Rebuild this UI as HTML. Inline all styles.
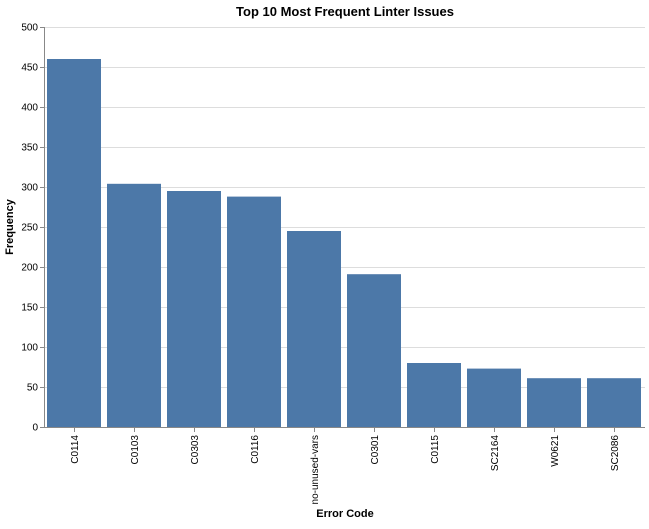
<!DOCTYPE html>
<html><head><meta charset="utf-8"><style>
body{margin:0;background:#fff;}
svg text{font-family:"Liberation Sans",Arial,sans-serif;}
</style></head><body>
<svg id="chart" width="649" height="524" xmlns="http://www.w3.org/2000/svg"></svg>
<script>
const categories=["C0114","C0103","C0303","C0116","no-unused-vars","C0301","C0115","SC2164","W0621","SC2086"];
const values=[460,304,295,288,245,191,80,73,61,61];
const yTicks=[0,50,100,150,200,250,300,350,400,450,500];
const L=45,R=645,T=27,B=427,yMax=500;
const NS="http://www.w3.org/2000/svg";
const svg=document.getElementById('chart');
const band=(R-L)/categories.length;
const x=i=>L+i*band;
const y=v=>B-(v/yMax)*(B-T);
function el(tag,attrs,parent){const e=document.createElementNS(NS,tag);for(const k in attrs)e.setAttribute(k,attrs[k]);(parent||svg).appendChild(e);return e;}
const grid=el('g',{});


yTicks.forEach(t=>{
  const g=el('line',{x1:L,x2:R,y1:y(t)+0.5,y2:y(t)+0.5,stroke:'#ddd'},grid);
  
  
});
const bars=el('g',{});


values.forEach((v,i)=>{
  const r=el('rect',{x:x(i)+2,y:y(v),width:band*0.9,height:B-y(v),fill:'#4c78a8'},bars);
  
  
});
const yAxis=el('g',{});


el('line',{x1:L-0.5,x2:L-0.5,y1:T,y2:B,stroke:'#888'},yAxis);
yTicks.forEach(t=>{
  el('line',{x1:L-5,x2:L,y1:y(t)+0.5,y2:y(t)+0.5,stroke:'#888'},yAxis);
  const tx=el('text',{x:L-7,y:y(t)+3.5,'text-anchor':'end','font-size':10,fill:'#000'},yAxis);
  tx.textContent=t;
  
  
});
const xAxis=el('g',{});


el('line',{x1:L,x2:R,y1:B+0.5,y2:B+0.5,stroke:'#888'},xAxis);
categories.forEach((c,i)=>{
  const cx=x(i)+band/2-0.5;
  el('line',{x1:cx,x2:cx,y1:B,y2:B+5,stroke:'#888'},xAxis);
  const tx=el('text',{transform:`translate(${cx+3.5},${B+8}) rotate(-90)`,'text-anchor':'end','font-size':10,fill:'#000'},xAxis);
  tx.textContent=c;
  
  
});
const xt=el('text',{x:(L+R)/2,y:517,'text-anchor':'middle','font-size':11,'font-weight':'bold'});
xt.textContent='Error Code';


const yt=el('text',{transform:`translate(13,${(T+B)/2}) rotate(-90)`,'text-anchor':'middle','font-size':11,'font-weight':'bold'});
yt.textContent='Frequency';


const title=el('text',{x:(L+R)/2,y:16,'text-anchor':'middle','font-size':13,'font-weight':'bold'});
title.textContent='Top 10 Most Frequent Linter Issues';


</script>
</body></html>
